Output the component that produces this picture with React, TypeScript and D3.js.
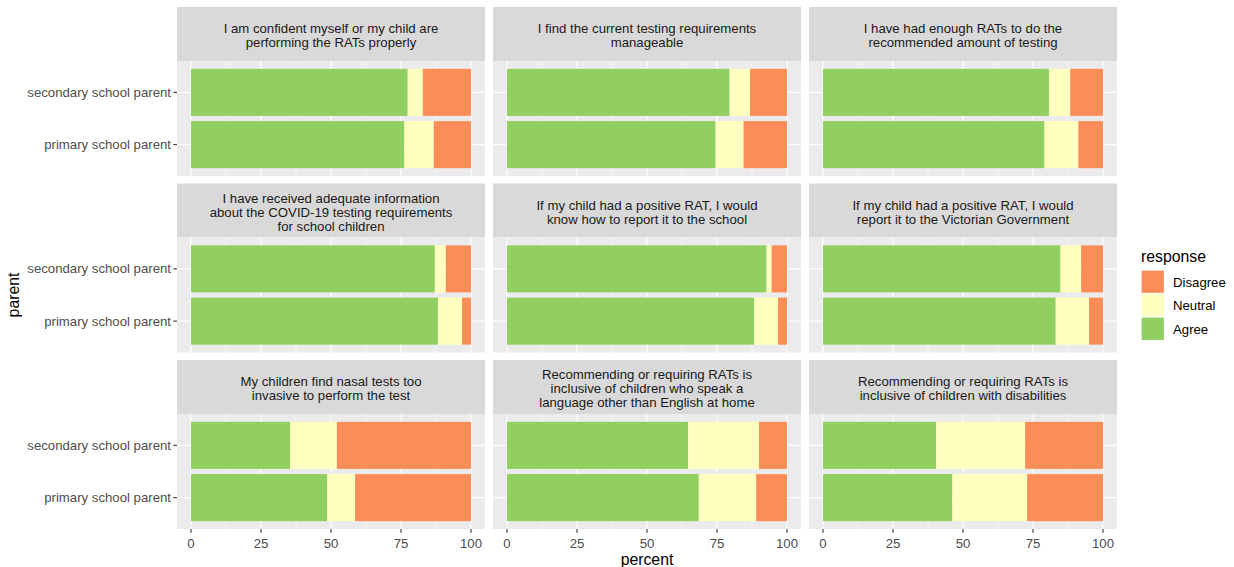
import React from "react";
import { scaleLinear, stack } from "d3";

// facet strip labels, already wrapped like the ggplot labeller did
const questions = [
  ["I am confident myself or my child are", "performing the RATs properly"],
  ["I find the current testing requirements", "manageable"],
  ["I have had enough RATs to do the", "recommended amount of testing"],
  ["I have received adequate information", "about the COVID-19 testing requirements", "for school children"],
  ["If my child had a positive RAT, I would", "know how to report it to the school"],
  ["If my child had a positive RAT, I would", "report it to the Victorian Government"],
  ["My children find nasal tests too", "invasive to perform the test"],
  ["Recommending or requiring RATs is", "inclusive of children who speak a", "language other than English at home"],
  ["Recommending or requiring RATs is", "inclusive of children with disabilities"],
];

const parents = ["primary school parent", "secondary school parent"];
const responses = ["Agree", "Neutral", "Disagree"];
const legendOrder = ["Disagree", "Neutral", "Agree"];
const colors: Record<string, string> = { Agree: "#91CF60", Neutral: "#FFFFBF", Disagree: "#FC8D59" };

const agreePrimary = [76.2, 74.5, 79.1, 88.2, 88.3, 83.1, 48.6, 68.5, 46.2];
const neutralPrimary = [10.5, 10.0, 12.1, 8.6, 8.5, 11.9, 10.0, 20.5, 26.7];
const disagreePrimary = [13.3, 15.5, 8.8, 3.2, 3.2, 5.0, 41.4, 11.0, 27.1];

const agreeSecondary = [77.4, 79.5, 80.7, 87.1, 92.7, 84.8, 35.4, 64.7, 40.4];
const neutralSecondary = [5.4, 7.3, 7.6, 3.9, 1.8, 7.4, 16.7, 25.3, 31.8];
const disagreeSecondary = [17.2, 13.2, 11.7, 9.0, 5.5, 7.8, 47.9, 10.0, 27.8];

const xTicks = [0, 25, 50, 75, 100];
const xMinor = [12.5, 37.5, 62.5, 87.5];

const FONT = "'Liberation Sans', Arial, sans-serif";
const colLeft = [177, 493, 809];
const panelW = 308;
const stripTop = [7, 183.5, 360];
const stripH = 54;
const panelH = 115;
const SMALL = 13.2;
const BIG = 15.8;

function Panel({ idx }: { idx: number }) {
  const col = idx % 3;
  const row = Math.floor(idx / 3);
  const x0 = colLeft[col];
  const sTop = stripTop[row];
  const pTop = sTop + stripH;

  const x = scaleLinear().domain([-5, 105]).range([x0, x0 + panelW]);
  // discrete y, 0.6 expansion on each side, secondary on top
  const y = scaleLinear().domain([0.4, 2.6]).range([pTop + panelH, pTop]);

  const rows = [
    { parent: parents[0], pos: 1, Agree: agreePrimary[idx], Neutral: neutralPrimary[idx], Disagree: disagreePrimary[idx] },
    { parent: parents[1], pos: 2, Agree: agreeSecondary[idx], Neutral: neutralSecondary[idx], Disagree: disagreeSecondary[idx] },
  ];
  const series = stack<any>().keys(responses)(rows);
  const lines = questions[idx];
  const lh = 14;

  return (
    <g>
      <rect x={x0} y={sTop} width={panelW} height={stripH} fill="#D9D9D9" />
      {lines.map((t, i) => (
        <text
          key={i}
          x={x0 + panelW / 2}
          y={sTop + stripH / 2 + 1.5 + (i - (lines.length - 1) / 2) * lh}
          textAnchor="middle"
          dominantBaseline="central"
          fontSize={SMALL}
          fill="#1A1A1A"
        >
          {t}
        </text>
      ))}
      <rect x={x0} y={pTop} width={panelW} height={panelH} fill="#EBEBEB" />
      {xMinor.map((v) => (
        <line key={"m" + v} x1={x(v)} x2={x(v)} y1={pTop} y2={pTop + panelH} stroke="#fff" strokeWidth={0.55} />
      ))}
      {xTicks.map((v) => (
        <line key={"M" + v} x1={x(v)} x2={x(v)} y1={pTop} y2={pTop + panelH} stroke="#fff" strokeWidth={1.1} />
      ))}
      {rows.map((r) => (
        <line key={r.parent} x1={x0} x2={x0 + panelW} y1={y(r.pos)} y2={y(r.pos)} stroke="#fff" strokeWidth={1.1} />
      ))}
      {series.map((s) =>
        s.map((d, j) => (
          <rect
            key={s.key + j}
            x={x(d[0])}
            width={x(d[1]) - x(d[0])}
            y={y(rows[j].pos + 0.45)}
            height={y(rows[j].pos - 0.45) - y(rows[j].pos + 0.45)}
            fill={colors[s.key]}
          />
        ))
      )}
      {col === 0 &&
        rows.map((r) => (
          <g key={"yl" + r.parent}>
            <line x1={x0 - 3.7} x2={x0} y1={y(r.pos)} y2={y(r.pos)} stroke="#333" strokeWidth={1.1} />
            <text x={x0 - 6} y={y(r.pos)} textAnchor="end" dominantBaseline="central" fontSize={SMALL} fill="#4D4D4D">
              {r.parent}
            </text>
          </g>
        ))}
      {row === 2 &&
        xTicks.map((v) => (
          <g key={"xl" + v}>
            <line x1={x(v)} x2={x(v)} y1={pTop + panelH} y2={pTop + panelH + 3.7} stroke="#333" strokeWidth={1.1} />
            <text x={x(v)} y={pTop + panelH + 14} textAnchor="middle" dominantBaseline="central" fontSize={SMALL} fill="#4D4D4D">
              {v}
            </text>
          </g>
        ))}
    </g>
  );
}

export default function App() {
  return (
    <svg
      width={1234}
      height={567}
      style={{ position: "absolute", left: 0, top: 0, background: "#fff" }}
      fontFamily={FONT}
    >
      {questions.map((_, i) => (
        <Panel key={i} idx={i} />
      ))}
      <text x={647} y={559} textAnchor="middle" dominantBaseline="central" fontSize={BIG} fill="#000">
        percent
      </text>
      <text
        transform="translate(13,295) rotate(-90)"
        textAnchor="middle"
        dominantBaseline="central"
        fontSize={BIG}
        fill="#000"
      >
        parent
      </text>
      <text x={1141} y={256} dominantBaseline="central" fontSize={BIG} fill="#000">
        response
      </text>
      {legendOrder.map((k, i) => (
        <g key={k}>
          <rect x={1141} y={270 + i * 23.5} width={23.5} height={23.5} fill={colors[k]} stroke="#fff" strokeWidth={1.2} />
          <text x={1173} y={270 + i * 23.5 + 12} dominantBaseline="central" fontSize={SMALL} fill="#000">
            {k}
          </text>
        </g>
      ))}
    </svg>
  );
}
